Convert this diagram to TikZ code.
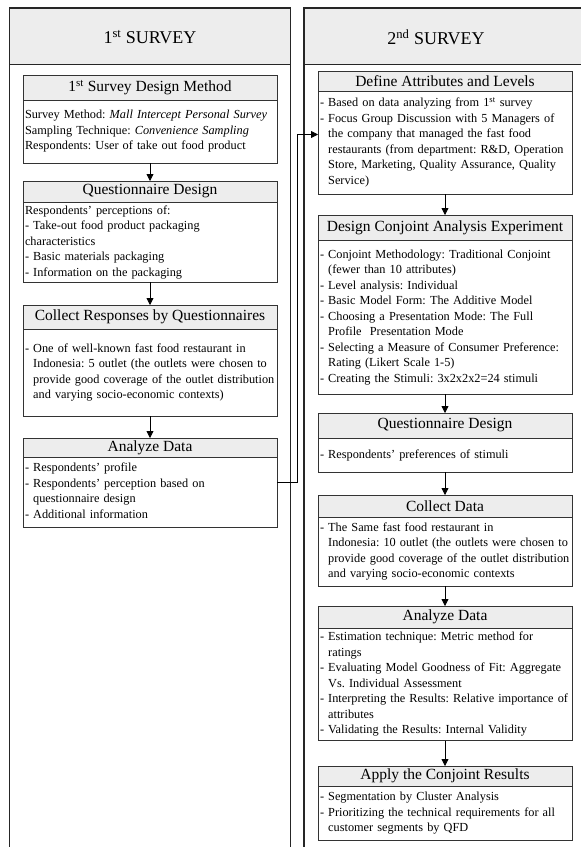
\documentclass[tikz,border=0pt]{standalone}
\usepackage{fontspec}
\setmainfont{Liberation Serif}
\usetikzlibrary{positioning,arrows.meta}

\newcommand{\dashlist}[1]{\begin{tabular}{@{}l@{\ }l@{}}#1\end{tabular}}
\frenchspacing
\hyphenpenalty=10000
\exhyphenpenalty=10000

\tikzset{
  panel/.style={draw=black!85, line width=1.2pt},
  band/.style={draw=black!80, fill=black!7, line width=0.8pt, minimum width=254pt,
    inner sep=0pt, outer sep=0pt, anchor=north, font=\fontsize{15.5}{18}\selectfont},
  body/.style={draw=black!80, line width=0.8pt, text width=250pt, inner xsep=2pt,
    inner ysep=2pt, outer sep=0pt, align=left, font=\fontsize{12.3}{15.5}\selectfont},
  head/.style={font=\fontsize{18}{20}\selectfont},
}

\begin{document}
\begin{tikzpicture}[x=1pt, y=-1pt, >={Triangle[length=7pt,width=7pt]}, line width=0.8pt]
\useasboundingbox (0,0) rectangle (581,847);
\clip (0,0) rectangle (581,847);

% the two survey panels
\fill[black!7] (9.5,8) rectangle (290.5,64);
\fill[black!7] (304,8) rectangle (600,64);
\draw[black!85] (9.5,64) -- (290.5,64);
\draw[black!85] (304,64) -- (600,64);
\draw[panel] (9.5,860) -- (9.5,8) -- (290.5,8) -- (290.5,860);
\draw[panel] (304,860) -- (304,8) -- (600,8);
\node[head] (head1) at (150,37) {1\textsuperscript{st} SURVEY};
\node[head] (head2) at (436,37) {2\textsuperscript{nd} SURVEY};

% first survey
\node[band, minimum height=25pt] (l1t) at (150,75) {1\textsuperscript{st} Survey Design Method};
\node[body, minimum height=63pt, below=0pt of l1t] (l1b) {Survey Method: \textit{Mall Intercept Personal Survey}\\
Sampling Technique: \textit{Convenience Sampling}\\
Respondents: User of take out food product};

\node[band, minimum height=21pt] (l2t) at (150,181) {Questionnaire Design};
\node[body, minimum height=80pt, below=0pt of l2t] (l2b) {Respondents' perceptions of:\\
- Take-out food product packaging\\
characteristics\\
- Basic materials packaging\\
- Information on the packaging};

\node[band, minimum height=24pt] (l3t) at (150,305) {Collect Responses by Questionnaires};
\node[body, minimum height=87pt, below=0pt of l3t] (l3b) {\dashlist{
-& One of well-known fast food restaurant in\\
 & Indonesia: 5 outlet (the outlets were chosen to\\
 & provide good coverage of the outlet distribution\\
 & and varying socio-economic contexts)}};

\node[band, minimum height=19pt] (l4t) at (150,438) {Analyze Data};
\node[body, minimum height=70pt, below=0pt of l4t] (l4b) {\dashlist{
-& Respondents' profile\\
-& Respondents' perception based on\\
 & questionnaire design\\
-& Additional information}};

% second survey
\node[band, minimum height=20pt] (r1t) at (445,71) {Define Attributes and Levels};
\node[body, minimum height=103pt, below=0pt of r1t] (r1b) {\dashlist{
-& Based on data analyzing from 1\textsuperscript{st} survey\\
-& Focus Group Discussion with 5 Managers of\\
 & the company that managed the fast food\\
 & restaurants (from department: R\&D, Operation\\
 & Store, Marketing, Quality Assurance, Quality\\
 & Service)}};

\node[band, minimum height=25pt] (r2t) at (445,215) {Design Conjoint Analysis Experiment};
\node[body, minimum height=154pt, below=0pt of r2t] (r2b) {\dashlist{
-& Conjoint Methodology: Traditional Conjoint\\
 & (fewer than 10 attributes)\\
-& Level analysis: Individual\\
-& Basic Model Form: The Additive Model\\
-& Choosing a Presentation Mode: The Full\\
 & Profile\ \ Presentation Mode\\
-& Selecting a Measure of Consumer Preference:\\
 & Rating (Likert Scale 1-5)\\
-& Creating the Stimuli: 3x2x2x2=24 stimuli}};

\node[band, minimum height=25pt] (r3t) at (445,413) {Questionnaire Design};
\node[body, minimum height=34pt, below=0pt of r3t] (r3b) {\dashlist{
-& Respondents' preferences of stimuli}};

\node[band, minimum height=22pt] (r4t) at (445,495) {Collect Data};
\node[body, minimum height=69pt, below=0pt of r4t] (r4b) {\dashlist{
-& The Same fast food restaurant in\\
 & Indonesia: 10 outlet (the outlets were chosen to\\
 & provide good coverage of the outlet distribution\\
 & and varying socio-economic contexts}};

\node[band, minimum height=22pt] (r5t) at (445,606) {Analyze Data};
\node[body, minimum height=112pt, below=0pt of r5t] (r5b) {\dashlist{
-& Estimation technique: Metric method for\\
 & ratings\\
-& Evaluating Model Goodness of Fit: Aggregate\\
 & Vs. Individual Assessment\\
-& Interpreting the Results: Relative importance of\\
 & attributes\\
-& Validating the Results: Internal Validity}};

\node[band, minimum height=20pt] (r6t) at (445,766) {Apply the Conjoint Results};
\node[body, minimum height=54pt, below=0pt of r6t] (r6b) {\dashlist{
-& Segmentation by Cluster Analysis\\
-& Prioritizing the technical requirements for all\\
 & customer segments by QFD}};

% arrows
\draw[->] (l1b) -- (l2t);
\draw[->] (l2b) -- (l3t);
\draw[->] (l3b) -- (l4t);
\draw[->] (r1b) -- (r2t);
\draw[->] (r2b) -- (r3t);
\draw[->] (r3b) -- (r4t);
\draw[->] (r4b) -- (r5t);
\draw[->] (r5b) -- (r6t);
\draw[->] ([yshift=10pt]l4b.east) -- ++(20,0) |- ([yshift=8pt]r1b.west);
\end{tikzpicture}
\end{document}
